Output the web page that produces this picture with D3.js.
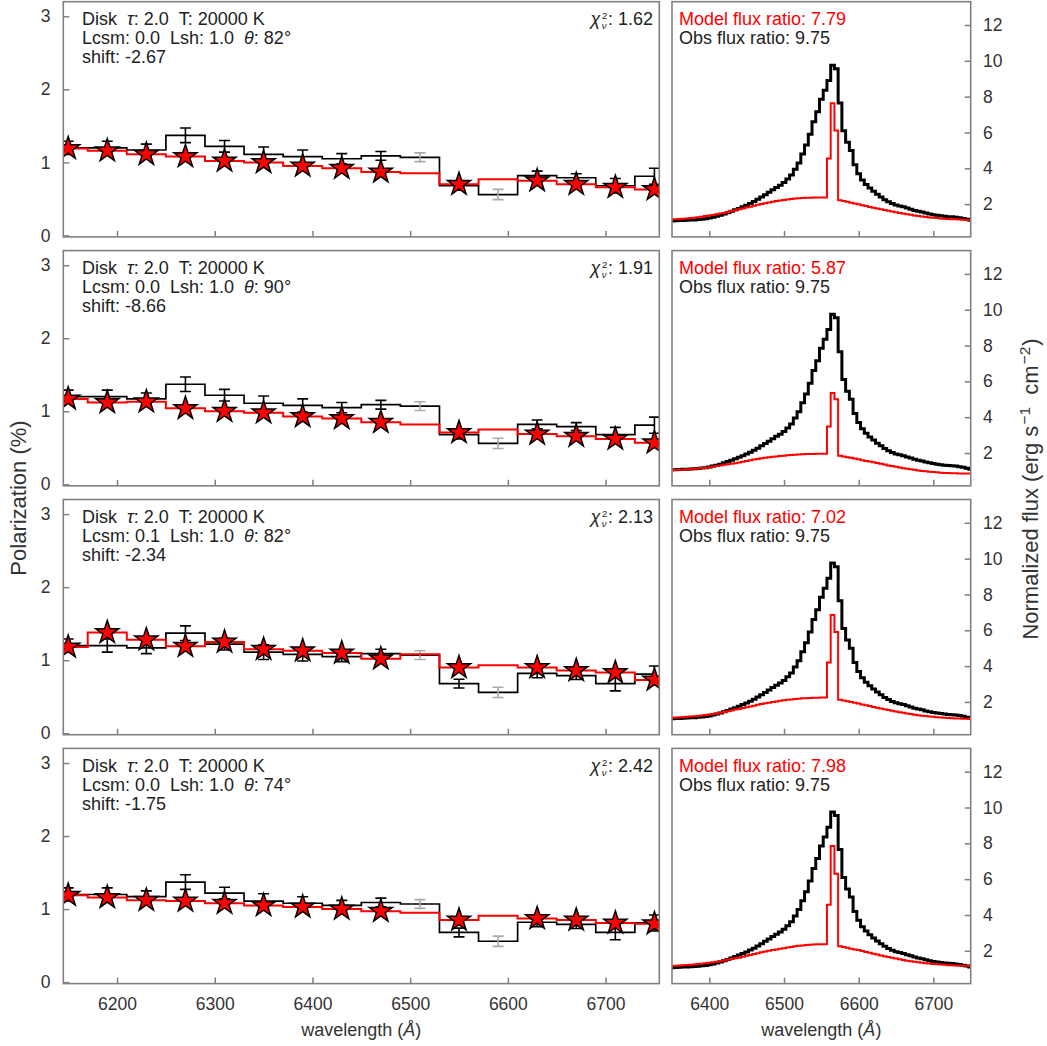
<!DOCTYPE html>
<html><head><meta charset="utf-8">
<script src="https://cdn.jsdelivr.net/npm/d3@7"></script>
<style>
body{margin:0;background:#fff}
text{font-family:"Liberation Sans",Arial,sans-serif;white-space:pre}
</style>
</head><body>
<svg id="c" width="1047" height="1046"></svg>
<script>
// ---------------- DATA ----------------
const binCenters = [6150,6190,6230,6270,6310,6350,6390,6430,6470,6510,6550,6590,6630,6670,6710,6750];
const maskedBins = [6510,6590];
const obsPol    = [1.20,1.20,1.17,1.37,1.22,1.11,1.08,1.05,1.09,1.07,0.68,0.56,0.82,0.79,0.68,0.81];
const obsPolErr = [0.09,0.09,0.08,0.10,0.08,0.10,0.09,0.07,0.06,0.06,0.06,0.07,0.06,0.055,0.10,0.11];
const modelPol1 = [1.19,1.16,1.11,1.08,1.02,1.00,0.95,0.92,0.87,0.85,0.70,0.77,0.75,0.70,0.66,0.63];
const modelPol2 = [1.17,1.12,1.13,1.04,1.00,0.98,0.93,0.90,0.85,0.82,0.71,0.75,0.69,0.66,0.62,0.57];
const modelPol3 = [1.18,1.38,1.28,1.19,1.25,1.15,1.13,1.10,1.02,1.08,0.90,0.93,0.90,0.86,0.83,0.73];
const modelPol4 = [1.19,1.16,1.12,1.11,1.08,1.05,1.03,1.00,0.97,0.95,0.85,0.91,0.87,0.85,0.81,0.80];

const fluxWave = [6350,6355,6360,6365,6370,6375,6380,6385,6390,6395,6400,6405,6410,6415,6420,6425,6430,6435,6440,6445,
  6450,6455,6460,6465,6470,6475,6480,6485,6490,6495,6500,6505,6510,6515,6520,6525,6530,6535,6540,6545,
  6550,6555,6560,6565,6570,6575,6580,6585,6590,6595,6600,6605,6610,6615,6620,6625,6630,6635,6640,6645,
  6650,6655,6660,6665,6670,6675,6680,6685,6690,6695,6700,6705,6710,6715,6720,6725,6730,6735,6740,6745,6750];
const obsFlux = [1.06,1.07,1.08,1.09,1.10,1.11,1.12,1.14,1.16,1.18,1.22,1.27,1.32,1.38,1.45,1.52,1.60,1.68,1.76,1.85,
  1.94,2.04,2.15,2.27,2.40,2.53,2.66,2.80,2.93,3.05,3.20,3.40,3.62,3.95,4.30,4.80,5.30,5.90,6.60,7.15,
  7.85,8.35,8.90,9.75,9.55,7.65,6.10,5.45,5.00,4.20,3.70,3.35,3.10,2.90,2.72,2.55,2.40,2.25,2.13,2.03,
  1.95,1.90,1.85,1.78,1.72,1.65,1.60,1.56,1.50,1.45,1.41,1.38,1.35,1.32,1.30,1.29,1.27,1.24,1.20,1.15,1.10];
const modelFlux1 = [1.15,1.16,1.17,1.19,1.20,1.22,1.24,1.27,1.30,1.33,1.36,1.39,1.43,1.47,1.51,1.56,1.61,1.66,1.71,1.76,
  1.81,1.86,1.91,1.96,2.01,2.05,2.09,2.13,2.17,2.20,2.23,2.26,2.29,2.31,2.33,2.34,2.35,2.36,2.37,2.37,
  2.37,2.37,4.54,7.63,6.11,2.22,2.18,2.13,2.08,2.04,1.99,1.94,1.89,1.84,1.80,1.75,1.71,1.67,1.63,1.59,
  1.55,1.51,1.47,1.44,1.40,1.37,1.34,1.31,1.28,1.26,1.24,1.22,1.20,1.18,1.17,1.16,1.15,1.14,1.13,1.12,1.11];
const modelFlux2 = [1.04,1.05,1.06,1.07,1.09,1.10,1.12,1.14,1.16,1.17,1.20,1.23,1.27,1.30,1.34,1.37,1.40,1.43,1.47,1.51,
  1.56,1.60,1.64,1.67,1.71,1.74,1.77,1.79,1.81,1.83,1.85,1.87,1.89,1.91,1.92,1.93,1.94,1.95,1.95,1.96,
  1.96,1.96,3.48,5.35,5.00,1.85,1.81,1.77,1.73,1.69,1.65,1.60,1.56,1.52,1.48,1.44,1.40,1.36,1.31,1.27,
  1.23,1.19,1.15,1.12,1.09,1.06,1.03,1.00,0.98,0.96,0.94,0.92,0.90,0.89,0.88,0.87,0.87,0.86,0.86,0.85,0.85];
const modelFlux3 = [1.12,1.13,1.14,1.15,1.17,1.18,1.20,1.22,1.24,1.27,1.30,1.33,1.36,1.40,1.44,1.48,1.52,1.57,1.61,1.66,
  1.70,1.75,1.79,1.84,1.88,1.92,1.96,1.99,2.03,2.06,2.09,2.12,2.14,2.16,2.18,2.20,2.21,2.22,2.23,2.23,
  2.24,2.24,4.20,6.85,5.90,2.12,2.08,2.04,2.00,1.96,1.91,1.86,1.81,1.77,1.72,1.68,1.63,1.59,1.55,1.51,
  1.47,1.43,1.39,1.36,1.32,1.29,1.26,1.23,1.21,1.19,1.17,1.15,1.13,1.12,1.10,1.09,1.08,1.07,1.06,1.06,1.05];
const modelFlux4 = [1.16,1.17,1.18,1.19,1.21,1.22,1.24,1.26,1.28,1.31,1.33,1.36,1.39,1.42,1.46,1.50,1.54,1.58,1.62,1.67,
  1.72,1.77,1.82,1.87,1.92,1.96,2.00,2.04,2.08,2.12,2.15,2.19,2.22,2.25,2.28,2.30,2.32,2.34,2.35,2.36,
  2.37,2.37,4.57,7.85,6.30,2.26,2.22,2.17,2.12,2.08,2.04,1.99,1.94,1.89,1.84,1.79,1.74,1.69,1.65,1.61,
  1.57,1.53,1.49,1.45,1.42,1.39,1.36,1.33,1.31,1.29,1.27,1.25,1.23,1.22,1.20,1.19,1.18,1.17,1.16,1.16,1.15];

const tauVals   = ["2.0","2.0","2.0","2.0"];
const tempVals  = ["20000","20000","20000","20000"];
const lcsmVals  = ["0.0","0.0","0.1","0.0"];
const lshVals   = ["1.0","1.0","1.0","1.0"];
const thetaVals = ["82","90","82","74"];
const shiftVals = ["-2.67","-8.66","-2.34","-1.75"];
const chi2Vals  = ["1.62","1.91","2.13","2.42"];
const modelRatioVals = ["7.79","5.87","7.02","7.98"];
const obsRatioVal = "9.75";

const polTicks  = [0,1,2,3];
const polWaveTicks = [6200,6300,6400,6500,6600,6700];
const fluxTicks = [2,4,6,8,10,12];
const fluxWaveTicks = [6400,6500,6600,6700];

const modelPols = [modelPol1,modelPol2,modelPol3,modelPol4];
const modelFluxes = [modelFlux1,modelFlux2,modelFlux3,modelFlux4];

// ---------------- LAYOUT ----------------
const svg = d3.select("#c");
const FS_TICK = 17.5, FS_ANN = 18, FS_XLAB = 18, FS_YLAB = 22;
const FRAME = "#808080", TXT = "#333", ANN = "#222";
const PH = 235.2;
const panelTop = i => 1.7 + 248.9*i;
const LX0=63.3, LX1=659.3, RX0=672, RX1=970.7;
const xL = d3.scaleLinear().domain([6145,6755]).range([LX0,LX1]);
const xR = d3.scaleLinear().domain([6350,6750]).range([RX0,RX1]);
const defs = svg.append("defs");
const star = d3.symbol(d3.symbolStar, 165);

function styleAxis(g){
  g.select(".domain").remove();
  g.selectAll(".tick line").attr("stroke",FRAME).attr("stroke-width",1.5);
  g.selectAll(".tick text").attr("fill",TXT).style("font-size",FS_TICK+"px").style("font-family","'Liberation Sans',Arial,sans-serif");
}

for (let i=0;i<4;i++){
  const top = panelTop(i), bot = top+PH;
  const isBottom = i===3;
  const yL = d3.scaleLinear().domain([-0.02,3.2]).range([bot,top]);
  const yR = d3.scaleLinear().domain([0.17,13.3]).range([bot,top]);

  defs.append("clipPath").attr("id","cl"+i).append("rect").attr("x",LX0).attr("y",top).attr("width",LX1-LX0).attr("height",PH);
  defs.append("clipPath").attr("id","cr"+i).append("rect").attr("x",RX0).attr("y",top).attr("width",RX1-RX0).attr("height",PH);

  // ---- left panel ----
  const gl = svg.append("g").attr("clip-path",`url(#cl${i})`);
  const polLine = d3.line().curve(d3.curveStep).x(d=>xL(d[0])).y(d=>yL(d[1]));
  gl.append("path").attr("d",polLine(binCenters.map((w,k)=>[w,obsPol[k]])))
    .attr("fill","none").attr("stroke","#000").attr("stroke-width",1.7);
  binCenters.forEach((w,k)=>{
    const c = maskedBins.includes(w) ? "#aaaaaa" : "#000";
    const x = xL(w), y1 = yL(obsPol[k]-obsPolErr[k]), y2 = yL(obsPol[k]+obsPolErr[k]);
    gl.append("line").attr("x1",x).attr("x2",x).attr("y1",y1).attr("y2",y2).attr("stroke",c).attr("stroke-width",1.6);
    [y1,y2].forEach(yy=>gl.append("line").attr("x1",x-5.5).attr("x2",x+5.5).attr("y1",yy).attr("y2",yy).attr("stroke",c).attr("stroke-width",1.6));
  });
  gl.append("path").attr("d",polLine(binCenters.map((w,k)=>[w,modelPols[i][k]])))
    .attr("fill","none").attr("stroke","#ff0000").attr("stroke-width",2);
  binCenters.forEach((w,k)=>{
    if (maskedBins.includes(w)) return;
    gl.append("path").attr("d",star()).attr("transform",`translate(${xL(w)},${yL(modelPols[i][k])})`)
      .attr("fill","#ff0000").attr("stroke","#000").attr("stroke-width",1.5).attr("stroke-linejoin","miter");
  });

  const axL = svg.append("g").attr("transform",`translate(${LX0},0)`)
    .call(d3.axisLeft(yL).tickValues(polTicks).tickFormat(d3.format("d")).tickSizeInner(-6).tickSizeOuter(0).tickPadding(12.8));
  styleAxis(axL);
  const axB = svg.append("g").attr("transform",`translate(0,${bot})`)
    .call(d3.axisBottom(xL).tickValues(polWaveTicks).tickFormat(isBottom?d3.format("d"):()=>"").tickSizeInner(-6).tickSizeOuter(0).tickPadding(14));
  styleAxis(axB);
  svg.append("rect").attr("x",LX0).attr("y",top).attr("width",LX1-LX0).attr("height",PH)
    .attr("fill","none").attr("stroke",FRAME).attr("stroke-width",1.6);

  // annotations
  const tx = 82, b1 = top+23.5, ls = 18.8;
  const t1 = svg.append("text").attr("x",tx).attr("y",b1).attr("fill",ANN).style("font-size",FS_ANN+"px");
  t1.append("tspan").text("Disk  ");
  t1.append("tspan").attr("font-style","italic").text("τ");
  t1.append("tspan").text(`: ${tauVals[i]}  T: ${tempVals[i]} K`);
  const t2 = svg.append("text").attr("x",tx).attr("y",b1+ls).attr("fill",ANN).style("font-size",FS_ANN+"px");
  t2.append("tspan").text(`Lcsm: ${lcsmVals[i]}  Lsh: ${lshVals[i]}  `);
  t2.append("tspan").attr("font-style","italic").text("θ");
  t2.append("tspan").text(`: ${thetaVals[i]}°`);
  svg.append("text").attr("x",tx).attr("y",b1+2*ls).attr("fill",ANN).style("font-size",FS_ANN+"px").text(`shift: ${shiftVals[i]}`);

  // chi2 label as one text element (stacked super/subscript)
  const ct = svg.append("text").attr("x",653).attr("y",b1).attr("text-anchor","end").attr("fill",ANN).style("font-size",FS_ANN+"px");
  ct.append("tspan").attr("font-style","italic").text("χ");
  ct.append("tspan").attr("dx",1.8).attr("dy",-6.4).style("font-size","9.5px").text("2");
  ct.append("tspan").attr("dx",-5.6).attr("dy",10.4).attr("font-style","italic").style("font-size","9.5px").text("ν");
  ct.append("tspan").attr("dx",1.5).attr("dy",-4.0).text(`: ${chi2Vals[i]}`);

  // ---- right panel ----
  const gr = svg.append("g").attr("clip-path",`url(#cr${i})`);
  const fluxLine = d3.line().curve(d3.curveStep).x(d=>xR(d[0])).y(d=>yR(d[1]));
  gr.append("path").attr("d",fluxLine(fluxWave.map((w,k)=>[w,obsFlux[k]])))
    .attr("fill","none").attr("stroke","#000").attr("stroke-width",3);
  gr.append("path").attr("d",fluxLine(fluxWave.map((w,k)=>[w,modelFluxes[i][k]])))
    .attr("fill","none").attr("stroke","#ff0000").attr("stroke-width",2);

  const axR = svg.append("g").attr("transform",`translate(${RX1},0)`)
    .call(d3.axisRight(yR).tickValues(fluxTicks).tickFormat(d3.format("d")).tickSizeInner(-6).tickSizeOuter(0).tickPadding(12.3));
  styleAxis(axR);
  const axRB = svg.append("g").attr("transform",`translate(0,${bot})`)
    .call(d3.axisBottom(xR).tickValues(fluxWaveTicks).tickFormat(isBottom?d3.format("d"):()=>"").tickSizeInner(-6).tickSizeOuter(0).tickPadding(14));
  styleAxis(axRB);
  svg.append("rect").attr("x",RX0).attr("y",top).attr("width",RX1-RX0).attr("height",PH)
    .attr("fill","none").attr("stroke",FRAME).attr("stroke-width",1.6);

  svg.append("text").attr("x",679).attr("y",b1).attr("fill","#ff0000").style("font-size",FS_ANN+"px").text(`Model flux ratio: ${modelRatioVals[i]}`);
  svg.append("text").attr("x",679).attr("y",b1+ls).attr("fill",ANN).style("font-size",FS_ANN+"px").text(`Obs flux ratio: ${obsRatioVal}`);
}

// axis titles
function xTitle(cx){
  const t = svg.append("text").attr("x",cx).attr("y",1036).attr("text-anchor","middle").attr("fill",TXT).style("font-size",FS_XLAB+"px");
  t.append("tspan").text("wavelength (");
  t.append("tspan").attr("font-style","italic").text("Å");
  t.append("tspan").text(")");
}
xTitle((LX0+LX1)/2);
xTitle((RX0+RX1)/2);

svg.append("text").attr("transform","translate(26,498) rotate(-90)").attr("text-anchor","middle").attr("fill",TXT)
  .style("font-size",FS_YLAB+"px").text("Polarization (%)");

const rt = svg.append("text").attr("transform","translate(1038,489) rotate(-90)").attr("text-anchor","middle").attr("fill",TXT)
  .style("font-size",FS_YLAB+"px");
rt.append("tspan").text("Normalized flux (erg s");
rt.append("tspan").attr("dx",1).attr("dy",-8.5).style("font-size","15.5px").text("−1");
rt.append("tspan").attr("dy",8.5).text("  cm");
rt.append("tspan").attr("dx",1).attr("dy",-8.5).style("font-size","15.5px").text("−2");
rt.append("tspan").attr("dx",1).attr("dy",8.5).text(")");
</script>
</body></html>
